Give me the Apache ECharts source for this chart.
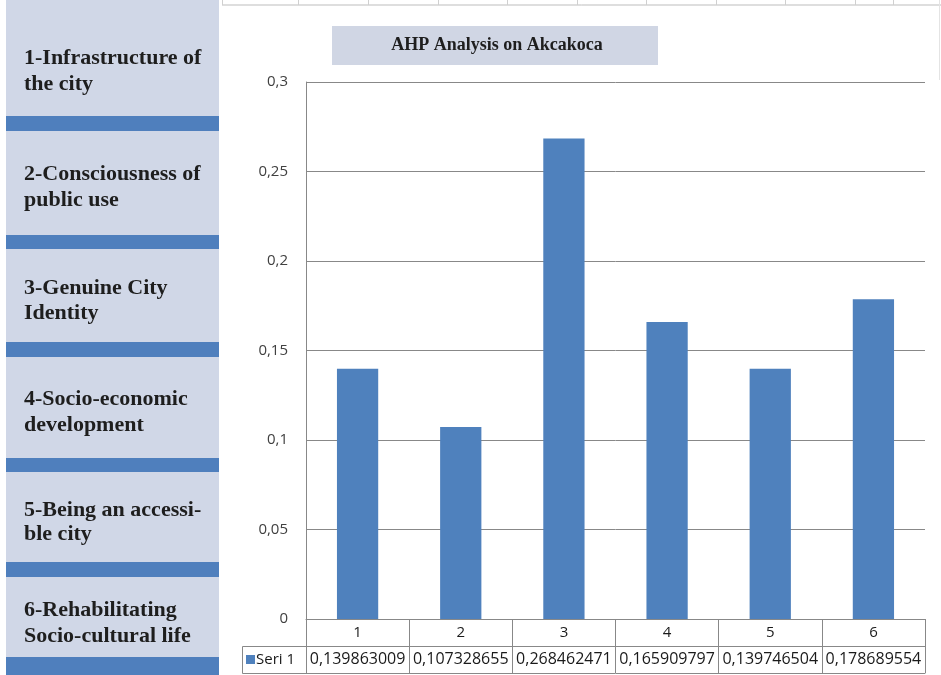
<!DOCTYPE html>
<html>
<head>
<meta charset="utf-8">
<script src="https://cdn.jsdelivr.net/npm/echarts@6/dist/echarts.min.js"></script>
<style>
html,body{margin:0;padding:0;background:#fff;}
#chart{width:941px;height:675px;}
</style>
</head>
<body>
<div id="chart"></div>
<script>
// ---- data ----
const categories = ['1', '2', '3', '4', '5', '6'];
const values = [0.139863009, 0.107328655, 0.268462471, 0.165909797, 0.139746504, 0.178689554];
const seriesName = 'Seri 1';
const yTickLabels = ['0', '0,05', '0,1', '0,15', '0,2', '0,25', '0,3'];
const chartTitle = 'AHP Analysis on Akcakoca';
const criteria = [
  ['1-Infrastructure of', 'the city'],
  ['2-Consciousness of', 'public use'],
  ['3-Genuine City', 'Identity'],
  ['4-Socio-economic', 'development'],
  ['5-Being an accessi-', 'ble city'],
  ['6-Rehabilitating', 'Socio-cultural life']
];

const valueLabels = values.map(v => String(v).replace('.', ','));

// ---- layout helpers (decoration) ----
const boxColor = '#d0d7e7';
const sepColor = '#4f7fbd';
const gridGray = '#888888';
const boxes = [[0, 116], [131, 235], [249, 342], [357, 458], [472, 562], [577, 657]];
const seps = [[116, 131], [235, 249], [342, 357], [458, 472], [562, 577], [657, 675]];
const textLines = [[58, 84], [174, 200], [288, 313], [399, 425], [510, 534], [610, 636]];

const graphics = [];
boxes.forEach(b => graphics.push({type: 'rect', shape: {x: 6, y: b[0], width: 213, height: b[1] - b[0]}, style: {fill: boxColor}, silent: true}));
seps.forEach(s => graphics.push({type: 'rect', shape: {x: 6, y: s[0], width: 213, height: s[1] - s[0]}, style: {fill: sepColor}, silent: true}));
criteria.forEach((c, i) => {
  c.forEach((line, j) => {
    graphics.push({type: 'text', x: 24, y: textLines[i][j], style: {
      text: line, fill: '#1e1e1e', font: 'bold 22px "Liberation Serif", "Times New Roman", serif',
      textVerticalAlign: 'middle', textAlign: 'left'
    }, silent: true});
  });
});
// spreadsheet remnants at top
graphics.push({type: 'line', shape: {x1: 222, y1: 5, x2: 941, y2: 5}, style: {stroke: '#bdbdbd', lineWidth: 1}, silent: true});
[222, 298, 368, 438, 507, 577, 646, 716, 785, 855, 893].forEach(x => graphics.push({type: 'line', shape: {x1: x + 0.5, y1: 0, x2: x + 0.5, y2: 5}, style: {stroke: '#d0d0d0', lineWidth: 1}, silent: true}));
graphics.push({type: 'line', shape: {x1: 939.5, y1: 0, x2: 939.5, y2: 80}, style: {stroke: '#e4e4e4', lineWidth: 1}, silent: true});
// title box
graphics.push({type: 'rect', shape: {x: 332, y: 26, width: 326, height: 39}, style: {fill: '#d0d6e4'}, silent: true});
graphics.push({type: 'text', x: 497, y: 45, style: {
  text: chartTitle, fill: '#1e1e1e', font: 'bold 18px "Liberation Serif", "Times New Roman", serif',
  textAlign: 'center', textVerticalAlign: 'middle'
}, silent: true});
// legend key cell of the data table
graphics.push({type: 'polyline', shape: {points: [[306, 646.5], [242.5, 646.5], [242.5, 673.5], [306, 673.5]]}, style: {stroke: gridGray, fill: null, lineWidth: 1}, silent: true});
graphics.push({type: 'rect', shape: {x: 246, y: 655, width: 9, height: 9}, style: {fill: '#4f81bd'}, silent: true});
graphics.push({type: 'text', x: 256, y: 660, style: {
  text: seriesName, fill: '#1a1a1a', font: '15px "Open Sans", sans-serif', textVerticalAlign: 'middle'
}, silent: true});

const chart = echarts.init(document.getElementById('chart'));
chart.setOption({
  animation: false,
  backgroundColor: '#ffffff',
  grid: {left: 306, right: 16, top: 82, bottom: 56},
  xAxis: [
    {
      type: 'category', data: categories, position: 'bottom',
      axisLine: {show: true, lineStyle: {color: gridGray, width: 1}},
      axisTick: {show: true, length: 54, lineStyle: {color: gridGray, width: 1}},
      axisLabel: {margin: 6, color: '#1a1a1a', fontSize: 15, fontFamily: 'Open Sans', interval: 0},
      splitLine: {show: false}
    },
    {
      type: 'category', data: valueLabels, position: 'bottom', offset: 27,
      axisLine: {show: true, lineStyle: {color: gridGray, width: 1}},
      axisTick: {show: false},
      axisLabel: {margin: 5, color: '#1a1a1a', fontSize: 16, fontFamily: 'Open Sans', interval: 0, hideOverlap: false},
      splitLine: {show: false}
    },
    {
      type: 'category', data: categories, position: 'bottom', offset: 54,
      axisLine: {show: true, lineStyle: {color: gridGray, width: 1}},
      axisTick: {show: false},
      axisLabel: {show: false},
      splitLine: {show: false}
    }
  ],
  yAxis: {
    type: 'value', min: 0, max: 0.3, interval: 0.05,
    axisLine: {show: true, lineStyle: {color: gridGray, width: 1}},
    axisTick: {show: false},
    axisLabel: {margin: 18, color: '#404040', fontSize: 15, fontFamily: 'Open Sans',
      formatter: (v, i) => yTickLabels[i]},
    splitLine: {show: true, lineStyle: {color: gridGray, width: 1}}
  },
  series: [{
    name: seriesName, type: 'bar', data: values, xAxisIndex: 0,
    barCategoryGap: '60%',
    itemStyle: {color: '#4f81bd'}
  }],
  graphic: graphics
});
</script>
</body>
</html>
